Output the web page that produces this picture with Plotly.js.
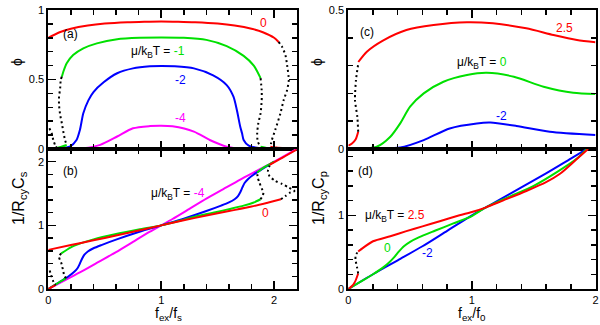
<!DOCTYPE html>
<html><head><meta charset="utf-8">
<script src="https://cdn.plot.ly/plotly-3.0.1.min.js"></script>
<style>html,body{margin:0;padding:0;background:#fff}#c{width:600px;height:325px}</style>
</head><body><div id="c"></div>
<script>
// ---- Panel (a): phi vs f_ex/f_s ----
const aRedX = [0,0.1,0.2,0.35,0.5,0.7,0.85,1.0,1.15,1.3,1.5,1.65,1.8,1.9,2.0,2.04];
const aRedY = [0.80,0.84,0.865,0.888,0.902,0.912,0.916,0.918,0.916,0.912,0.902,0.888,0.865,0.84,0.80,0.77];
const aRedLowX = [1.967,2.02,2.1,2.2];
const aRedLowY = [0.017,0.01,0.006,0.004];
const aRedDotX = [2.04,2.07,2.10,2.115,2.13,2.115,2.085,2.056,2.01,1.98,1.967];
const aRedDotY = [0.77,0.736,0.676,0.604,0.496,0.424,0.353,0.257,0.137,0.065,0.017];
const aRedDotLX = [0.009,0.03,0.044,0.06,0.075];
const aRedDotLY = [0.149,0.113,0.065,0.029,0.005];
const aGreenX = [0.12,0.133,0.163,0.22,0.31,0.43,0.61,0.81,1.0,1.2,1.4,1.58,1.73,1.82,1.88];
const aGreenY = [0.52,0.556,0.617,0.676,0.724,0.76,0.79,0.80,0.803,0.80,0.785,0.74,0.67,0.60,0.51];
const aGreenLowLX = [0,0.05,0.1,0.163];
const aGreenLowLY = [0,0.005,0.012,0.029];
const aGreenLowRX = [1.88,1.95,2.0];
const aGreenLowRY = [0.017,0.005,0.0];
const aGreenDotLX = [0.12,0.11,0.105,0.095,0.095,0.105,0.12,0.133,0.148,0.163];
const aGreenDotLY = [0.52,0.496,0.437,0.376,0.317,0.245,0.185,0.125,0.065,0.029];
const aGreenDotRX = [1.88,1.89,1.89,1.88,1.86,1.85,1.855,1.88];
const aGreenDotRY = [0.51,0.42,0.35,0.257,0.185,0.113,0.053,0.017];
const aBlueX = [0,0.1,0.19,0.25,0.28,0.31,0.355,0.40,0.49,0.61,0.75,0.90,1.0,1.12,1.29,1.46,1.58,1.64,1.67,1.70,1.716,1.73,1.775,1.88,2.0];
const aBlueY = [0,0.005,0.017,0.065,0.137,0.257,0.35,0.41,0.48,0.545,0.58,0.595,0.598,0.595,0.58,0.53,0.46,0.376,0.28,0.16,0.113,0.065,0.024,0.005,0.001];
const aMagX = [0,0.2,0.31,0.46,0.61,0.75,0.90,1.0,1.1,1.29,1.43,1.58,1.73,2.0,2.2];
const aMagY = [0,0.001,0.005,0.03,0.09,0.149,0.165,0.168,0.163,0.125,0.065,0.017,0.002,0,0];

// ---- Panel (b): 1/RcyCs vs f_ex/f_s ----
const bRedX = [0,0.2,0.4,0.6,0.8,1.0,1.2,1.4,1.6,1.8,1.95,2.06];
const bRedY = [0.615,0.69,0.765,0.84,0.92,1.0,1.08,1.155,1.225,1.295,1.36,1.41];
const bRedLowRX = [1.96,2.05,2.1,2.2];
const bRedLowRY = [1.95,2.04,2.09,2.19];
const bRedLowLX = [0,0.03,0.065];
const bRedLowLY = [0,0.03,0.065];
const bRedDotX = [2.06,2.10,2.145,2.18,2.13,2.07,2.01,1.96,1.945,1.96];
const bRedDotY = [1.41,1.46,1.52,1.54,1.595,1.65,1.70,1.77,1.85,1.94];
const bRedDotLX = [0.012,0.025,0.04,0.053,0.065];
const bRedDotLY = [0.29,0.22,0.14,0.08,0.065];
const bGreenX = [0.115,0.2,0.29,0.4,0.59,0.8,1.0,1.2,1.33,1.49,1.6,1.73,1.82,1.88];
const bGreenY = [0.56,0.655,0.72,0.78,0.86,0.935,1.0,1.09,1.15,1.21,1.255,1.31,1.36,1.41];
const bGreenLowLX = [0,0.05,0.1,0.16];
const bGreenLowLY = [0,0.055,0.11,0.17];
const bGreenLowRX = [1.85,1.9,1.95,2.0];
const bGreenLowRY = [1.83,1.9,1.95,2.0];
const bGreenDotLX = [0.115,0.1,0.095,0.105,0.115,0.13,0.145,0.16];
const bGreenDotLY = [0.56,0.53,0.50,0.45,0.41,0.30,0.195,0.17];
const bGreenDotRX = [1.88,1.9,1.905,1.89,1.87,1.855,1.85];
const bGreenDotRY = [1.41,1.47,1.52,1.58,1.67,1.75,1.83];
const bBlueX = [0,0.1,0.18,0.23,0.26,0.28,0.3,0.32,0.35,0.4,0.47,0.6,0.8,1.0,1.2,1.4,1.53,1.6,1.65,1.68,1.7,1.72,1.74,1.77,1.82,1.9,2.0];
const bBlueY = [0,0.11,0.2,0.27,0.33,0.40,0.48,0.54,0.59,0.64,0.69,0.775,0.895,1.0,1.105,1.225,1.31,1.36,1.41,1.46,1.52,1.60,1.67,1.73,1.8,1.89,2.0];
const bMagX = [0,0.15,0.3,0.45,0.6,0.75,0.9,1.0,1.1,1.25,1.4,1.55,1.7,1.85,2.0,2.2];
const bMagY = [0,0.14,0.28,0.43,0.58,0.74,0.9,1.0,1.1,1.26,1.42,1.57,1.72,1.86,2.0,2.2];

// ---- Panel (c): phi vs f_ex/f_0 ----
const cRedLowX = [0,0.03,0.06,0.08];
const cRedLowY = [0.012,0.02,0.035,0.062];
const cRedDotX = [0.08,0.073,0.054,0.062,0.081];
const cRedDotY = [0.062,0.116,0.176,0.248,0.308];
const cRedX = [0.081,0.15,0.28,0.47,0.69,0.96,1.17,1.44,1.66,1.85,2.0];
const cRedY = [0.313,0.35,0.39,0.428,0.446,0.456,0.452,0.434,0.41,0.392,0.384];
const cGreenX = [0,0.23,0.34,0.42,0.50,0.61,0.77,0.96,1.12,1.34,1.58,1.82,2.0];
const cGreenY = [0,0.008,0.044,0.092,0.152,0.20,0.242,0.266,0.274,0.26,0.224,0.202,0.198];
const cBlueX = [0,0.42,0.61,0.82,1.04,1.15,1.36,1.63,2.0];
const cBlueY = [0,0.005,0.032,0.074,0.092,0.095,0.083,0.062,0.05];

// ---- Panel (d): 1/RcyCp vs f_ex/f_0 ----
const dRedLowX = [0,0.03,0.055,0.08];
const dRedLowY = [0,0.04,0.1,0.21];
const dRedDotX = [0.08,0.07,0.058,0.06,0.08];
const dRedDotY = [0.21,0.3,0.4,0.46,0.51];
const dRedX = [0.08,0.1,0.2,0.34,0.47,0.6,0.74,0.9,1.0,1.11,1.25,1.44,1.6,1.71,1.84,1.94];
const dRedY = [0.51,0.535,0.648,0.716,0.785,0.85,0.92,1.0,1.045,1.105,1.2,1.33,1.45,1.56,1.75,1.9];
const dGreenX = [0,0.1,0.2,0.28,0.33,0.37,0.41,0.45,0.5,0.57,0.7,0.85,1.0,1.11,1.3,1.5,1.7,1.85,1.93];
const dGreenY = [0,0.1,0.2,0.29,0.36,0.43,0.51,0.58,0.64,0.70,0.79,0.89,0.99,1.105,1.25,1.40,1.6,1.77,1.9];
const dBlueX = [0,0.2,0.4,0.6,0.8,1.0,1.11,1.2,1.4,1.6,1.8,1.93];
const dBlueY = [0,0.2,0.39,0.58,0.79,1.0,1.105,1.19,1.38,1.57,1.77,1.9];

const RED='#ff0000', GREEN='#00e000', BLUE='#0000ff', MAG='#ff00ff';
function solid(x,y,c,xa,ya){return {x:x,y:y,xaxis:xa,yaxis:ya,mode:'lines',line:{color:c,width:2,shape:'spline',smoothing:0.7},hoverinfo:'skip'};}
function dots(x,y,xa,ya){return {x:x,y:y,xaxis:xa,yaxis:ya,mode:'lines',line:{color:'#000',width:2,dash:'2px,3px',shape:'spline',smoothing:0.6},hoverinfo:'skip'};}

const data = [
  solid(aMagX,aMagY,MAG,'x','y'),
  solid(aBlueX,aBlueY,BLUE,'x','y'),
  solid(aGreenX,aGreenY,GREEN,'x','y'),
  solid(aGreenLowLX,aGreenLowLY,GREEN,'x','y'),
  solid(aGreenLowRX,aGreenLowRY,GREEN,'x','y'),
  solid(aRedX,aRedY,RED,'x','y'),
  solid(aRedLowX,aRedLowY,RED,'x','y'),
  dots(aRedDotX,aRedDotY,'x','y'),
  dots(aRedDotLX,aRedDotLY,'x','y'),
  dots(aGreenDotLX,aGreenDotLY,'x','y'),
  dots(aGreenDotRX,aGreenDotRY,'x','y'),

  solid(bMagX,bMagY,MAG,'x2','y2'),
  solid(bBlueX,bBlueY,BLUE,'x2','y2'),
  solid(bGreenX,bGreenY,GREEN,'x2','y2'),
  solid(bGreenLowLX,bGreenLowLY,GREEN,'x2','y2'),
  solid(bGreenLowRX,bGreenLowRY,GREEN,'x2','y2'),
  solid(bRedX,bRedY,RED,'x2','y2'),
  solid(bRedLowRX,bRedLowRY,RED,'x2','y2'),
  solid(bRedLowLX,bRedLowLY,RED,'x2','y2'),
  dots(bRedDotX,bRedDotY,'x2','y2'),
  dots(bRedDotLX,bRedDotLY,'x2','y2'),
  dots(bGreenDotLX,bGreenDotLY,'x2','y2'),
  dots(bGreenDotRX,bGreenDotRY,'x2','y2'),

  solid(cBlueX,cBlueY,BLUE,'x3','y3'),
  solid(cGreenX,cGreenY,GREEN,'x3','y3'),
  solid(cRedX,cRedY,RED,'x3','y3'),
  solid(cRedLowX,cRedLowY,RED,'x3','y3'),
  dots(cRedDotX,cRedDotY,'x3','y3'),

  solid(dBlueX,dBlueY,BLUE,'x4','y4'),
  solid(dGreenX,dGreenY,GREEN,'x4','y4'),
  solid(dRedX,dRedY,RED,'x4','y4'),
  solid(dRedLowX,dRedLowY,RED,'x4','y4'),
  dots(dRedDotX,dRedDotY,'x4','y4')
];

const FONT = 'Liberation Sans, Arial, sans-serif';
function ax(dom, range, dtick, minor, anchor, labels, extra){
  return Object.assign({domain:dom, range:range, anchor:anchor, dtick:dtick, tick0:0,
    showgrid:false, zeroline:false, showline:true, linecolor:'#000', linewidth:2, mirror:'ticks',
    ticks:'inside', ticklen:8, tickwidth:1.5, tickcolor:'#000', showticklabels:labels,
    tickfont:{family:FONT,size:11,color:'#000'},
    minor:{dtick:minor, tick0:0, ticks:'inside', ticklen:5, tickwidth:1.5, tickcolor:'#000', showgrid:false},
    fixedrange:true}, extra||{});
}
const XL=[48.3/600, 296.7/600], XR=[348.3/600, 595.5/600];
const YT=[1-149/325, 1-10/325], YB=[1-289/325, 1-149/325];

function ann(xref,yref,x,y,text,color,size){return {xref:xref,yref:yref,x:x,y:y,text:text,showarrow:false,font:{family:FONT,size:size||12,color:color||'#000'},xanchor:'center',yanchor:'middle'};}
function pann(px,py,text,angle,size){return {xref:'paper',yref:'paper',x:px/600,y:1-py/325,text:text,showarrow:false,textangle:angle||0,font:{family:FONT,size:size||13,color:'#000'},xanchor:'center',yanchor:'middle'};}

const annotations = [
  ann('x','y',0.2,0.83,'(a)'),
  ann('x','y',1.91,0.91,'0',RED),
  ann('x','y',0.97,0.695,'μ/k<sub>B</sub>T = <span style="color:'+GREEN+'">-1</span>'),
  ann('x','y',1.17,0.495,'-2',BLUE),
  ann('x','y',1.17,0.225,'-4',MAG),
  ann('x2','y2',0.2,1.85,'(b)'),
  ann('x2','y2',1.15,1.49,'μ/k<sub>B</sub>T = <span style="color:'+MAG+'">-4</span>'),
  ann('x2','y2',1.92,1.19,'0',RED),
  ann('x3','y3',0.15,0.42,'(c)'),
  ann('x3','y3',1.75,0.435,'2.5',RED),
  ann('x3','y3',1.08,0.31,'μ/k<sub>B</sub>T = <span style="color:'+GREEN+'">0</span>'),
  ann('x3','y3',1.24,0.12,'-2',BLUE),
  ann('x4','y4',0.14,1.6,'(d)'),
  ann('x4','y4',0.38,0.995,'μ/k<sub>B</sub>T = <span style="color:'+RED+'">2.5</span>'),
  ann('x4','y4',0.32,0.56,'0',GREEN),
  ann('x4','y4',0.64,0.49,'-2',BLUE),
  pann(17,62,'ϕ',-90,14),
  pann(317,62,'ϕ',-90,14),
  pann(19,198,'1/R<sub>cy</sub>C<sub>s</sub>',-90,16),
  pann(319,198,'1/R<sub>cy</sub>C<sub>p</sub>',-90,16),
  pann(168,314,'f<sub>ex</sub>/f<sub>s</sub>',0,14),
  pann(472,314,'f<sub>ex</sub>/f<sub>0</sub>',0,14)
];

const layout = {
  width:600, height:325, margin:{l:0,r:0,t:0,b:0}, showlegend:false,
  paper_bgcolor:'#fff', plot_bgcolor:'#fff', font:{family:FONT,color:'#000'},
  xaxis: ax(XL,[0,2.2],1,0.2,'y',false),
  yaxis: ax(YT,[0,1],0.5,0.1,'x',true),
  xaxis2: ax(XL,[0,2.2],1,0.2,'y2',true),
  yaxis2: ax(YB,[0,2.2],1,0.2,'x2',true),
  xaxis3: ax(XR,[0,2],1,0.2,'y3',false),
  yaxis3: ax(YT,[0,0.5],0.5,0.1,'x3',true),
  xaxis4: ax(XR,[0,2],1,0.2,'y4',true),
  yaxis4: ax(YB,[0,1.9],1,0.2,'x4',true),
  annotations: annotations
};
Plotly.newPlot('c', data, layout, {staticPlot:true, displayModeBar:false});
</script></body></html>
